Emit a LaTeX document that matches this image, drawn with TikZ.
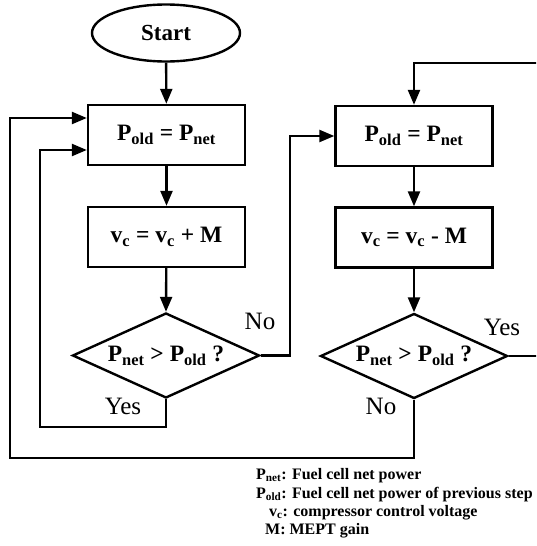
\documentclass[tikz,border=0pt]{standalone}
\usepackage{fontspec}
\setmainfont{Liberation Serif}
\usetikzlibrary{shapes.geometric,arrows.meta}
\begin{document}
\begin{tikzpicture}[x=1pt,y=-1pt,
  line width=2.4pt,
  every node/.style={inner sep=0pt},
  proc/.style={draw,rectangle,minimum width=157pt,minimum height=60pt,font=\fontsize{23.5}{26}\selectfont\bfseries},
  decide/.style={draw,diamond,aspect=2.2,minimum width=187pt,minimum height=85pt,font=\fontsize{23.5}{26}\selectfont\bfseries},
  term/.style={draw,ellipse,minimum width=148pt,minimum height=57pt,font=\fontsize{23}{26}\selectfont\bfseries},
  lbl/.style={font=\fontsize{25}{28}\selectfont},
  leg/.style={anchor=base west,font=\fontsize{16}{18}\selectfont\bfseries},
  arr/.style={-{Triangle[length=15pt,width=12pt]}}]
\useasboundingbox (0,0) rectangle (536,546);
\clip (0,0) rectangle (536,546);
\node[term] (start) at (166,33) {Start};
\node[proc] (b1) at (166.5,135) {P\textsubscript{old} = P\textsubscript{net}};
\node[proc] (b2) at (166.5,237) {v\textsubscript{c} = v\textsubscript{c} + M};
\node[decide] (d1) at (166,355.5) {P\textsubscript{net} > P\textsubscript{old} ?};
\node[proc] (b3) at (414,136) {P\textsubscript{old} = P\textsubscript{net}};
\node[proc] (b4) at (414,237.5) {v\textsubscript{c} = v\textsubscript{c} - M};
\node[decide] (d2) at (414,356) {P\textsubscript{net} > P\textsubscript{old} ?};
\coordinate (c1) at (290,355.5);
\coordinate (c2) at (40,427);
\coordinate (c3) at (10,458);
\coordinate (c4) at (545,63);
\draw[arr] (start) -- (b1);
\draw[arr] (b1) -- (b2);
\draw[arr] (b2) -- (d1.north);
\draw[arr] (b3) -- (b4);
\draw[arr] (b4) -- (d2.north);
\draw[arr] (d1.east) -- (c1) |- (b3.west);
\draw[arr] (d1.south) |- (c2) |- ([yshift=-15pt]b1.west);
\draw[arr] (d2.south) |- (c3) |- ([yshift=17pt]b1.west);
\draw[arr] (d2.east) -| (c4) -| (b3.north);
\node[lbl] (no1) at (260,321) {No};
\node[lbl] (yes1) at (123,406) {Yes};
\node[lbl] (yes2) at (502,327) {Yes};
\node[lbl] (no2) at (381,406) {No};
\node[leg] (l1) at (255,479) {P\textsubscript{net}: Fuel cell net power};
\node[leg] (l2) at (255,498) {P\textsubscript{old}: Fuel cell net power of previous step};
\node[leg] (l3) at (268,516) {v\textsubscript{c}: compressor control voltage};
\node[leg] (l4) at (264,534) {M: MEPT gain};
\end{tikzpicture}
\end{document}
